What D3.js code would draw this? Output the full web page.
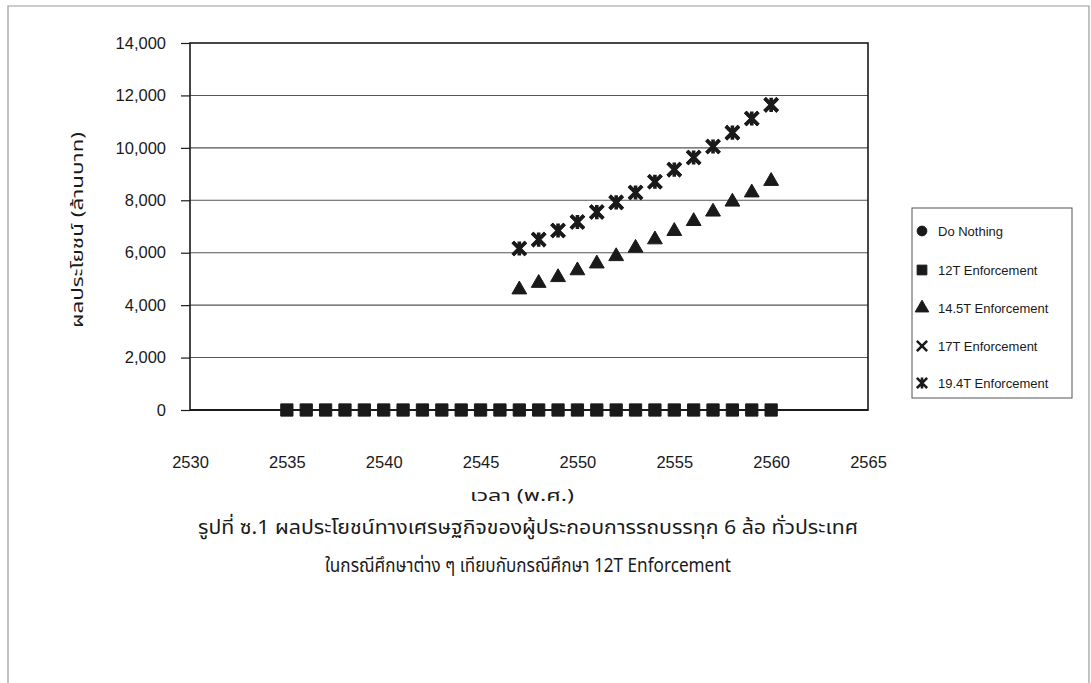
<!DOCTYPE html>
<html>
<head>
<meta charset="utf-8">
<script src="https://cdn.jsdelivr.net/npm/d3@7"></script>
<style>
  html, body { margin: 0; padding: 0; background: #fff; }
  svg { display: block; }
  text { font-family: "Liberation Sans", Arial, "Noto Sans Thai", "Noto Sans", sans-serif; fill: #1a1a1a; }
  .thai { font-family: "Noto Sans Thai", "Noto Sans Thai UI", "Noto Sans", "DejaVu Sans", sans-serif; }
</style>
</head>
<body>
<svg id="chart" width="1091" height="683"></svg>
<script>
// ---------- data ----------
const yearsBase = [2535,2536,2537,2538,2539,2540,2541,2542,2543,2544,2545,2546,2547,2548,2549,2550,2551,2552,2553,2554,2555,2556,2557,2558,2559,2560];
const doNothing = [0,0,0,0,0,0,0,0,0,0,0,0,0,0,0,0,0,0,0,0,0,0,0,0,0,0];
const t12 = [0,0,0,0,0,0,0,0,0,0,0,0,0,0,0,0,0,0,0,0,0,0,0,0,0,0];
const yearsEnf = [2547,2548,2549,2550,2551,2552,2553,2554,2555,2556,2557,2558,2559,2560];
const t145 = [4630,4880,5100,5360,5620,5900,6220,6540,6860,7240,7600,7980,8330,8770];
const t17 = [6160,6500,6850,7170,7550,7920,8300,8710,9170,9630,10050,10580,11120,11640];
const t194 = [6160,6500,6850,7170,7550,7920,8300,8710,9170,9630,10050,10580,11120,11640];
const xTicks = [2530,2535,2540,2545,2550,2555,2560,2565];
const xMinor = [2535,2540,2545,2550,2555,2560];
const yTicks = [0,2000,4000,6000,8000,10000,12000,14000];
const legendLabels = ["Do Nothing","12T Enforcement","14.5T Enforcement","17T Enforcement","19.4T Enforcement"];
const yTitle = "ผลประโยชน์ (ล้านบาท)";
const xTitle = "เวลา (พ.ศ.)";
const caption1 = "รูปที่ ซ.1  ผลประโยชน์ทางเศรษฐกิจของผู้ประกอบการรถบรรทุก 6 ล้อ ทั่วประเทศ";
const caption2 = "ในกรณีศึกษาต่าง ๆ เทียบกับกรณีศึกษา 12T Enforcement";

// ---------- layout ----------
const svg = d3.select("#chart");
const L = 190, R = 868, T = 43, B = 410;
const x = d3.scaleLinear().domain([2530, 2565]).range([L, R]);
const y = d3.scaleLinear().domain([0, 14000]).range([B, T]);

// outer frame
svg.append("path")
  .attr("d", `M8,690 L8,6 L1089,6 L1089,690`)
  .attr("fill", "none").attr("stroke", "#9a9a9a").attr("stroke-width", 1.2);

// gridlines
svg.append("g").selectAll("line").data(yTicks.filter(d => d > 0 && d < 14000)).join("line")
  .attr("x1", L).attr("x2", R).attr("y1", d => y(d)).attr("y2", d => y(d))
  .attr("stroke", "#555").attr("stroke-width", 1.1);

// plot border
svg.append("rect").attr("x", L).attr("y", T).attr("width", R - L).attr("height", B - T)
  .attr("fill", "none").attr("stroke", "#1a1a1a").attr("stroke-width", 1.6);

// y axis
const yAxis = d3.axisLeft(y).tickValues(yTicks).tickSize(9).tickPadding(15)
  .tickFormat(d3.format(","));
const gy = svg.append("g").attr("transform", `translate(${L},0)`).call(yAxis);
gy.select(".domain").remove();
gy.selectAll(".tick line").attr("stroke", "#1a1a1a").attr("stroke-width", 1.2);
gy.selectAll(".tick text").attr("font-size", 16.5).attr("fill", "#222")
  .style("font-family", '"Liberation Sans", Arial, sans-serif');

// x axis line at 0 and minor ticks
svg.append("line").attr("x1", L).attr("x2", R).attr("y1", y(0)).attr("y2", y(0))
  .attr("stroke", "#1a1a1a").attr("stroke-width", 1.8);
svg.append("g").selectAll("line").data(xMinor).join("line")
  .attr("x1", d => x(d)).attr("x2", d => x(d)).attr("y1", y(0)).attr("y2", y(0) + 6)
  .attr("stroke", "#333").attr("stroke-width", 1);
// x tick labels (positioned low, Excel style)
const xAxis = d3.axisBottom(x).tickValues(xTicks).tickSize(0).tickPadding(0).tickFormat(d3.format("d"));
const gx = svg.append("g").attr("transform", `translate(0,456)`).call(xAxis);
gx.select(".domain").remove();
gx.selectAll(".tick text").attr("font-size", 16.5).attr("fill", "#222")
  .style("font-family", '"Liberation Sans", Arial, sans-serif');

// ---------- markers ----------
const symTimes = { draw(ctx, size) { const r = Math.sqrt(size) / 2; ctx.moveTo(-r, -r); ctx.lineTo(r, r); ctx.moveTo(-r, r); ctx.lineTo(r, -r); } };
const symStar = { draw(ctx, size) { const r = Math.sqrt(size) / 2; ctx.moveTo(-r, -r); ctx.lineTo(r, r); ctx.moveTo(-r, r); ctx.lineTo(r, -r); ctx.moveTo(0, -r); ctx.lineTo(0, r); } };

const series = [
  { name: legendLabels[0], xs: yearsBase, ys: doNothing, type: d3.symbolCircle, size: 90, filled: true },
  { name: legendLabels[1], xs: yearsBase, ys: t12, type: d3.symbolSquare, size: 150, filled: true },
  { name: legendLabels[2], xs: yearsEnf, ys: t145, type: d3.symbolTriangle, size: 95, filled: true },
  { name: legendLabels[3], xs: yearsEnf, ys: t17, type: symTimes, size: 110, filled: false },
  { name: legendLabels[4], xs: yearsEnf, ys: t194, type: symStar, size: 110, filled: false }
];

function styleSym(sel, s) {
  if (s.filled) sel.attr("fill", "#1a1a1a").attr("stroke", "#1a1a1a").attr("stroke-width", 1).attr("stroke-linejoin", "round");
  else sel.attr("fill", "none").attr("stroke", "#1a1a1a").attr("stroke-width", 3.6).attr("stroke-linecap", "square");
}

series.forEach(s => {
  const pts = s.xs.map((v, i) => [v, s.ys[i]]);
  const g = svg.append("g");
  const p = g.selectAll("path").data(pts).join("path")
    .attr("transform", d => `translate(${x(d[0])},${y(d[1]) + (s.type === d3.symbolTriangle ? 1 : 0)})`)
    .attr("d", d3.symbol(s.type, s.size));
  styleSym(p, s);
});

// ---------- legend ----------
svg.append("rect").attr("x", 912).attr("y", 208).attr("width", 160).attr("height", 190)
  .attr("fill", "#fff").attr("stroke", "#555").attr("stroke-width", 1);
const legY = [231, 270, 308, 346, 383];
const legSize = [75, 95, 80, 70, 70];
series.forEach((s, i) => {
  const p = svg.append("path").attr("transform", `translate(922,${legY[i]})`).attr("d", d3.symbol(s.type, legSize[i]));
  styleSym(p, s);
  if (!s.filled) p.attr("stroke-width", 2.6);
  svg.append("text").attr("x", 938).attr("y", legY[i] + 5).attr("font-size", 13)
    .attr("fill", "#222")
    .style("font-family", '"Liberation Sans", Arial, sans-serif').text(s.name);
});

// ---------- titles ----------
svg.append("text").attr("class", "thai").attr("transform", "translate(83,230) rotate(-90)")
  .attr("text-anchor", "middle").attr("font-size", 16).attr("fill", "#333")
  .attr("textLength", 196).attr("lengthAdjust", "spacingAndGlyphs").text(yTitle);
svg.append("text").attr("class", "thai").attr("x", 522).attr("y", 501)
  .attr("text-anchor", "middle").attr("font-size", 16).attr("fill", "#333")
  .attr("textLength", 104).attr("lengthAdjust", "spacingAndGlyphs").text(xTitle);
svg.append("text").attr("class", "thai").attr("x", 528).attr("y", 534)
  .attr("text-anchor", "middle").attr("font-size", 20).attr("fill", "#111")
  .attr("textLength", 660).attr("lengthAdjust", "spacingAndGlyphs").text(caption1);
svg.append("text").attr("class", "thai").attr("x", 528).attr("y", 572)
  .attr("text-anchor", "middle").attr("font-size", 20).attr("fill", "#111")
  .attr("textLength", 406).attr("lengthAdjust", "spacingAndGlyphs").text(caption2);
</script>
</body>
</html>
